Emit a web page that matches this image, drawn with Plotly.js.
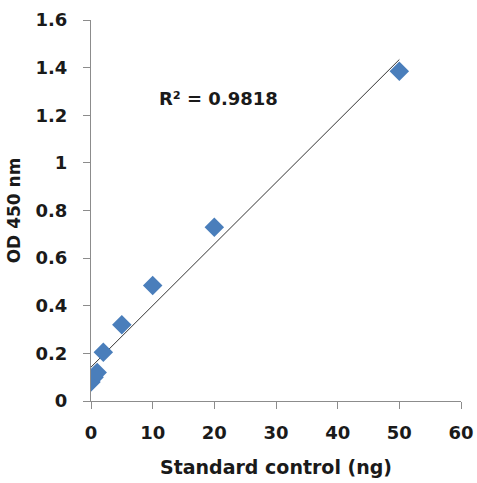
<!DOCTYPE html>
<html>
<head>
<meta charset="utf-8">
<script src="https://cdn.plot.ly/plotly-3.0.1.min.js"></script>
<style>html,body{margin:0;padding:0;background:#fff;}#chart{width:477px;height:483px;}</style>
</head>
<body>
<div id="chart"></div>
<script>
// Data
const standardNg = [0, 0.5, 1, 2, 5, 10, 20, 50];
const od450 = [0.08, 0.10, 0.12, 0.205, 0.32, 0.485, 0.73, 1.385];
const xTicks = [0, 10, 20, 30, 40, 50, 60];
const yTicks = [0, 0.2, 0.4, 0.6, 0.8, 1, 1.2, 1.4, 1.6];
const yTickLabels = ['0', '0.2', '0.4', '0.6', '0.8', '1', '1.2', '1.4', '1.6'];
const r2Label = 'R² = 0.9818';

// Linear least-squares trendline computed from the data
const n = standardNg.length;
const mx = standardNg.reduce((a, b) => a + b, 0) / n;
const my = od450.reduce((a, b) => a + b, 0) / n;
let sxy = 0, sxx = 0;
for (let i = 0; i < n; i++) { sxy += (standardNg[i] - mx) * (od450[i] - my); sxx += (standardNg[i] - mx) ** 2; }
const slope = sxy / sxx, intercept = my - slope * mx;
const xMin = Math.min(...standardNg), xMax = Math.max(...standardNg);
const fitX = [xMin, xMax];
const fitY = fitX.map(x => intercept + slope * x);

const fam = 'DejaVu Sans, Verdana, sans-serif';
const tickFont = {family: fam, size: 18, color: '#1a1a1a', weight: 'bold'};
const xTitleFont = {family: fam, size: 19, color: '#1a1a1a', weight: 'bold'};
const yTitleFont = {family: fam, size: 17, color: '#1a1a1a', weight: 'bold'};
const annFont = {family: fam, size: 18, color: '#1a1a1a', weight: 'bold'};

Plotly.newPlot('chart', [
  {x: fitX, y: fitY, mode: 'lines', line: {color: '#333333', width: 1}, hoverinfo: 'skip'},
  {x: standardNg, y: od450, mode: 'markers', marker: {symbol: 'diamond', size: 15, color: '#4a7ebb', line: {width: 0}}}
], {
  width: 477, height: 483,
  margin: {l: 91, r: 16, t: 20, b: 82},
  showlegend: false,
  paper_bgcolor: '#fff', plot_bgcolor: '#fff',
  font: tickFont,
  xaxis: {
    range: [0, 60], tickvals: xTicks, ticktext: xTicks.map(String),
    showgrid: false, zeroline: false, showline: true, linecolor: '#8c8c8c', linewidth: 1,
    ticks: 'outside', ticklen: 7, tickcolor: '#8c8c8c', tickfont: tickFont, ticklabelstandoff: 8,
    title: {text: 'Standard control (ng)', font: xTitleFont, standoff: 19}
  },
  yaxis: {
    range: [0, 1.6], tickvals: yTicks, ticktext: yTickLabels,
    showgrid: false, zeroline: false, showline: true, linecolor: '#8c8c8c', linewidth: 1,
    ticks: 'outside', ticklen: 7, tickcolor: '#8c8c8c', tickfont: tickFont, ticklabelstandoff: 12,
    title: {text: 'OD 450 nm', font: yTitleFont, standoff: 10}
  },
  annotations: [{x: 20.6, y: 1.27, xref: 'x', yref: 'y', text: r2Label, showarrow: false, font: annFont}]
}, {displayModeBar: false, staticPlot: true});
</script>
</body>
</html>
